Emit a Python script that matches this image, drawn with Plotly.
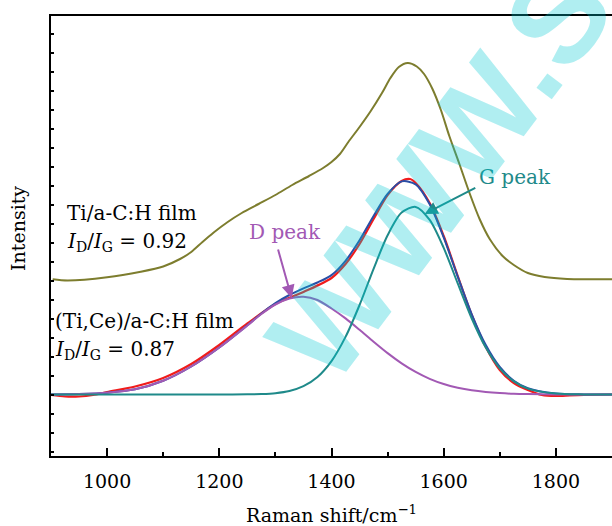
import plotly.graph_objects as go

# ---- data (intensity in arbitrary units) ----
x_ti = [903, 930, 1000, 1060, 1100, 1130, 1150, 1170, 1190, 1215, 1240, 1270, 1300, 1330, 1360, 1385,
        1400, 1415, 1430, 1450, 1470, 1490, 1505, 1520, 1536, 1552, 1565, 1580, 1595, 1610, 1628, 1646,
        1664, 1682, 1705, 1725, 1750, 1780, 1820, 1860, 1900]
y_ti = [175.7, 174.5, 177.7, 183.3, 188.5, 196.0, 203.0, 213.0, 222.5, 233.0, 242.0, 251.0, 260.0, 270.0, 279.0, 287.0,
        293.0, 301.0, 313.0, 328.0, 344.0, 362.0, 377.0, 388.0, 392.0, 388.5, 381.0, 366.0, 345.0, 319.0, 291.0, 262.0,
        236.0, 216.0, 199.0, 190.0, 182.0, 178.0, 176.0, 175.7, 175.7]

x_grid = [900, 925, 950, 975, 1000, 1050, 1100, 1150, 1200, 1250, 1300, 1350, 1400, 1425, 1450, 1475,
          1500, 1525, 1540, 1550, 1575, 1600, 1625, 1650, 1675, 1700, 1725, 1750, 1775, 1800, 1825, 1850, 1900]
y_meas = [60.0, 58.5, 58.5, 60.0, 63.0, 68.5, 77.0, 91.0, 110.0, 131.5, 151.0, 163.0, 177.0, 191.0, 211.0, 236.0,
          260.0, 274.0, 276.0, 272.0, 252.0, 219.0, 179.0, 140.0, 108.0, 85.0, 72.0, 65.0, 60.0, 59.0, 59.5, 60.0, 60.5]

x_fit = [900, 950, 1000, 1050, 1100, 1150, 1200, 1250, 1275, 1300, 1325, 1350, 1375, 1400, 1425, 1450, 1475,
         1500, 1525, 1550, 1575, 1600, 1625, 1650, 1675, 1700, 1725, 1750, 1800, 1850, 1900]
y_fit = [60.5, 61.0, 62.3, 65.7, 74.2, 88.5, 107.5, 129.7, 141.5, 151.9, 160.0, 166.6, 172.5, 179.9, 194.2, 214.7, 239.0,
         261.1, 273.6, 270.7, 250.8, 217.6, 178.4, 140.7, 109.9, 88.0, 74.3, 66.8, 61.5, 60.6, 60.5]
y_dpk = [60.5, 61.0, 62.3, 65.7, 74.2, 88.5, 107.5, 129.5, 141.0, 150.5, 156.5, 158.3, 155.0, 146.5, 136.6, 125.2, 113.3,
         101.9, 91.7, 83.1, 76.2, 71.0, 67.3, 64.7, 63.0, 61.9, 61.2, 60.9, 60.6, 60.5, 60.5]
y_gpk = [60.5, 60.5, 60.5, 60.5, 60.5, 60.5, 60.5, 60.65, 61.0, 61.85, 64.0, 68.8, 78.0, 93.9, 118.1, 150.0, 186.2,
         219.7, 242.4, 248.1, 235.1, 207.1, 171.6, 136.5, 107.4, 86.6, 73.6, 66.4, 61.4, 60.6, 60.5]

x_ticks = [1000, 1200, 1400, 1600, 1800]

OLIVE = "#7d7d2e"
RED = "#f01c1c"
BLUE = "#2a4ea6"
PURPLE = "#a259b4"
TEAL = "#1f8a8a"
SERIF = "DejaVu Serif"

fig = go.Figure()
fig.add_trace(go.Scatter(x=x_ti, y=y_ti, mode="lines", line=dict(color=OLIVE, width=2, shape="spline", smoothing=0.8), showlegend=False))
fig.add_trace(go.Scatter(x=x_grid, y=y_meas, mode="lines", line=dict(color=RED, width=2.2, shape="spline", smoothing=0.8), showlegend=False))
fig.add_trace(go.Scatter(x=x_fit, y=y_fit, mode="lines", line=dict(color=BLUE, width=2, shape="spline", smoothing=0.8), showlegend=False))
fig.add_trace(go.Scatter(x=x_fit, y=y_dpk, mode="lines", line=dict(color=PURPLE, width=2, shape="spline", smoothing=0.8), showlegend=False))
fig.add_trace(go.Scatter(x=x_fit, y=y_gpk, mode="lines", line=dict(color=TEAL, width=2, shape="spline", smoothing=0.8), showlegend=False))

ann = []
def txt(x, y, s, color="black", xanchor="left", size=20):
    ann.append(dict(x=x, y=y, xref="x", yref="y", text=s, showarrow=False, xanchor=xanchor, yanchor="middle",
                    font=dict(family=SERIF, size=size, color=color)))

txt(925, 242, "Ti/a-C:H film")
txt(925, 213, "<i>I</i><sub>D</sub>/<i>I</i><sub>G</sub> = 0.92")
txt(903, 134, "(Ti,Ce)/a-C:H film")
txt(903, 105, "<i>I</i><sub>D</sub>/<i>I</i><sub>G</sub> = 0.87")
txt(1317, 223, "D peak", PURPLE, "center")
txt(1727, 278, "G peak", TEAL, "center")

ann.append(dict(x=1329, y=157, ax=1304, ay=207, xref="x", yref="y", axref="x", ayref="y", text="",
                showarrow=True, arrowhead=2, arrowsize=1.3, arrowwidth=2, arrowcolor=PURPLE))
ann.append(dict(x=1566, y=241, ax=1659, ay=268, xref="x", yref="y", axref="x", ayref="y", text="",
                showarrow=True, arrowhead=2, arrowsize=1.3, arrowwidth=2, arrowcolor=TEAL))

# y-axis title placed as text
ann.append(dict(x=-0.059, y=0.518, xref="paper", yref="paper", xanchor="center", yanchor="middle",
                text="Intensity", showarrow=False, textangle=-90,
                font=dict(family=SERIF, size=19, color="black")))

# watermark
ann.append(dict(x=0.693, y=0.643, xref="paper", yref="paper", xanchor="center", yanchor="middle",
                text="<b>WWW.S</b>", showarrow=False,
                textangle=-53, font=dict(family="Liberation Sans", size=128, color="rgba(0,200,210,0.31)")))

fig.update_layout(
    width=612, height=526,
    margin=dict(l=51, r=0, t=16, b=70),
    plot_bgcolor="white", paper_bgcolor="white",
    annotations=ann,
    xaxis=dict(range=[900, 1900], tickvals=x_ticks, ticks="inside", ticklen=8, tickwidth=2, tickcolor="black",
               minor=dict(dtick=100, tick0=900, ticks="inside", ticklen=4, tickwidth=2, tickcolor="black"),
               showline=True, linecolor="black", linewidth=2, mirror=True, showgrid=False, zeroline=False,
               ticklabelstandoff=7, automargin=False,
               tickfont=dict(family=SERIF, size=19, color="black"),
               title=dict(text="Raman shift/cm<sup>−1</sup>", font=dict(family=SERIF, size=19, color="black"), standoff=20)),
    yaxis=dict(range=[-1, 439], tick0=2.7, dtick=19, ticks="inside", ticklen=3, tickwidth=1.5, tickcolor="black",
               showticklabels=False, showline=True, linecolor="black", linewidth=2, showgrid=False, zeroline=False,
               automargin=False),
)

fig.write_html("out.html")
